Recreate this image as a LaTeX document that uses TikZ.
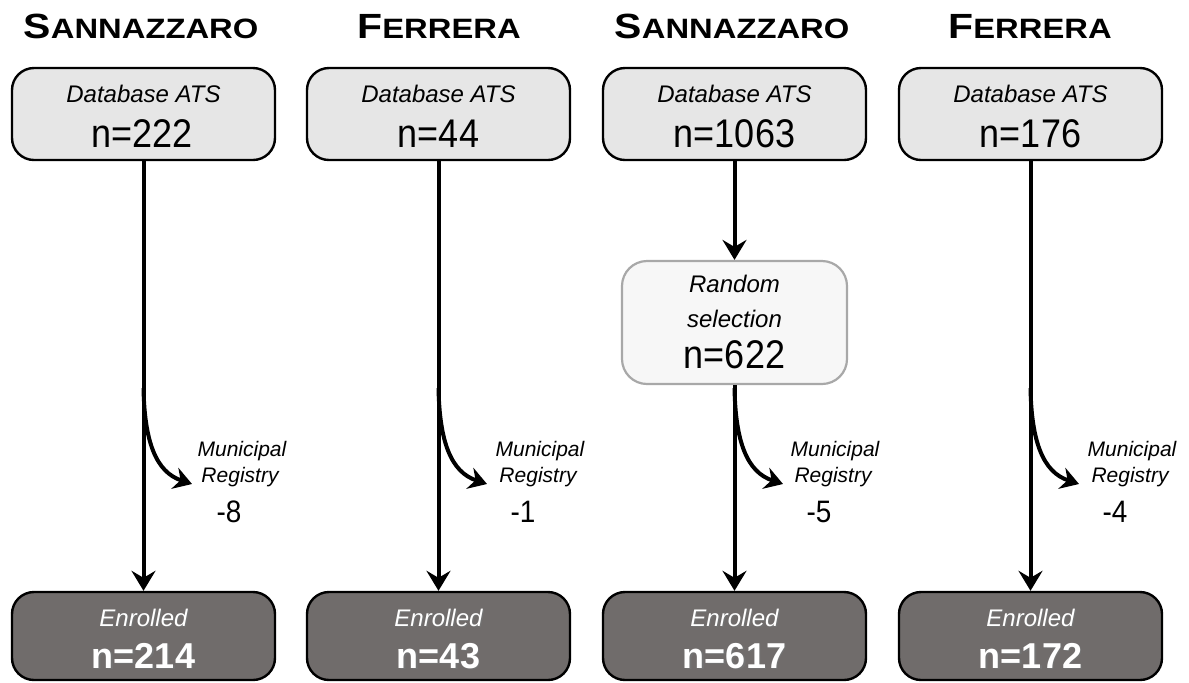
\documentclass[tikz,border=0pt]{standalone}
\usepackage{fontspec}
\setmainfont{Liberation Sans}
\newfontfamily\narrowsans[FakeStretch=0.9]{Liberation Sans}
\usetikzlibrary{arrows.meta}

\definecolor{topfill}{HTML}{E6E6E6}
\definecolor{selfill}{HTML}{F7F7F7}
\definecolor{seldraw}{HTML}{A8A8A8}
\definecolor{enrfill}{HTML}{706C6B}

% title in bold faked small caps, stretched a little
\newcommand\sctitle[2]{\scalebox{1.17}[1]{\bfseries\fontsize{17.5}{20}\selectfont #1\fontsize{14}{16}\selectfont #2}}
% white text with a soft dark drop shadow
\newcommand\shtext[1]{\rlap{\kern0.6pt\raisebox{-0.6pt}{\color{black!55}#1}}#1}

\tikzset{
  topbox/.style={draw=black, line width=1.2pt, fill=topfill, rounded corners=11pt,
    minimum width=131.5pt, minimum height=46pt, inner sep=0pt},
  selbox/.style={draw=seldraw, line width=1.1pt, fill=selfill, rounded corners=12.5pt,
    minimum width=112.5pt, minimum height=61.5pt, inner sep=0pt},
  enrbox/.style={draw=black, line width=1.2pt, fill=enrfill, rounded corners=11pt,
    minimum width=131.5pt, minimum height=44pt, inner sep=0pt},
  ttl/.style={anchor=base, inner sep=0pt},
  lbl/.style={anchor=base, inner sep=0pt, font=\itshape\fontsize{12}{14}\selectfont},
  num/.style={anchor=base, inner sep=0pt, font=\narrowsans\fontsize{20}{22}\selectfont},
  enrlbl/.style={anchor=base, inner sep=0pt, text=white, font=\itshape\fontsize{12}{14}\selectfont},
  enrnum/.style={anchor=base, inner sep=0pt, text=white, font=\bfseries\fontsize{18}{20}\selectfont},
  sidelbl/.style={anchor=base, inner sep=0pt, font=\itshape\fontsize{10.5}{12}\selectfont},
  sidenum/.style={anchor=base, inner sep=0pt, font=\narrowsans\fontsize{15.5}{17}\selectfont},
  flow/.style={line width=2pt, -{Stealth[length=10pt,width=12pt,inset=3.5pt]}},
  branch/.style={line width=2pt, -{Stealth[length=9pt,width=11pt,inset=3pt]}},
}

\begin{document}
\begin{tikzpicture}[x=0.5pt, y=-0.5pt]
\useasboundingbox (0,0) rectangle (1189,682);

% ---------------- column 1 : Sannazzaro ----------------
\node[ttl] (t1) at (141,38) {\sctitle{S}{ANNAZZARO}};
\node[topbox] (db1) at (143.5,114) {};
\node[lbl] (db1l) at (143.5,102) {Database ATS};
\node[num] (db1n) at (142,147) {n=222};
\node[enrbox] (en1) at (143.5,636) {};
\node[enrlbl] (en1l) at (143.5,626) {\shtext{Enrolled}};
\node[enrnum] (en1n) at (143.5,668) {\shtext{n=214}};
\draw[flow] (db1.south) -- (en1.north);
\coordinate (s1) at (143.5,388);
\coordinate (e1) at (192,484);
\draw[branch] (s1) .. controls (144.5,442) and (156,472) .. (e1);
\node[sidelbl] (m1a) at (242,456) {Municipal};
\node[sidelbl] (m1b) at (240,482) {Registry};
\node[sidenum] (m1c) at (229,522) {-8};

% ---------------- column 2 : Ferrera ----------------
\node[ttl] (t2) at (439,38) {\sctitle{F}{ERRERA}};
\node[topbox] (db2) at (438.5,114) {};
\node[lbl] (db2l) at (438.5,102) {Database ATS};
\node[num] (db2n) at (438.5,147) {n=44};
\node[enrbox] (en2) at (438.5,636) {};
\node[enrlbl] (en2l) at (438.5,626) {\shtext{Enrolled}};
\node[enrnum] (en2n) at (438.5,668) {\shtext{n=43}};
\draw[flow] (db2.south) -- (en2.north);
\coordinate (s2) at (438.5,388);
\coordinate (e2) at (487,484);
\draw[branch] (s2) .. controls (439.5,442) and (451,472) .. (e2);
\node[sidelbl] (m2a) at (540,456) {Municipal};
\node[sidelbl] (m2b) at (538,482) {Registry};
\node[sidenum] (m2c) at (523,522) {-1};

% ---------------- column 3 : Sannazzaro, sampled ----------------
\node[ttl] (t3) at (732,38) {\sctitle{S}{ANNAZZARO}};
\node[topbox] (db3) at (734.5,114) {};
\node[lbl] (db3l) at (734.5,102) {Database ATS};
\node[num] (db3n) at (734.5,147) {n=1063};
\node[selbox] (rs3) at (734.5,322.5) {};
\node[lbl] (rs3a) at (734.5,292) {Random};
\node[lbl] (rs3b) at (734.5,327) {selection};
\node[num] (rs3n) at (734.5,368) {n=622};
\node[enrbox] (en3) at (734.5,636) {};
\node[enrlbl] (en3l) at (734.5,626) {\shtext{Enrolled}};
\node[enrnum] (en3n) at (734.5,668) {\shtext{n=617}};
\draw[flow] (db3.south) -- (rs3.north);
\draw[flow] (rs3.south) -- (en3.north);
\coordinate (s3) at (734.5,388);
\coordinate (e3) at (783,484);
\draw[branch] (s3) .. controls (735.5,442) and (747,472) .. (e3);
\node[sidelbl] (m3a) at (835,456) {Municipal};
\node[sidelbl] (m3b) at (833,482) {Registry};
\node[sidenum] (m3c) at (819,522) {-5};

% ---------------- column 4 : Ferrera ----------------
\node[ttl] (t4) at (1030,38) {\sctitle{F}{ERRERA}};
\node[topbox] (db4) at (1030.5,114) {};
\node[lbl] (db4l) at (1030.5,102) {Database ATS};
\node[num] (db4n) at (1030.5,147) {n=176};
\node[enrbox] (en4) at (1030.5,636) {};
\node[enrlbl] (en4l) at (1030.5,626) {\shtext{Enrolled}};
\node[enrnum] (en4n) at (1030.5,668) {\shtext{n=172}};
\draw[flow] (db4.south) -- (en4.north);
\coordinate (s4) at (1030.5,388);
\coordinate (e4) at (1079,484);
\draw[branch] (s4) .. controls (1031.5,442) and (1043,472) .. (e4);
\node[sidelbl] (m4a) at (1132,456) {Municipal};
\node[sidelbl] (m4b) at (1130,482) {Registry};
\node[sidenum] (m4c) at (1115,522) {-4};
\end{tikzpicture}
\end{document}
